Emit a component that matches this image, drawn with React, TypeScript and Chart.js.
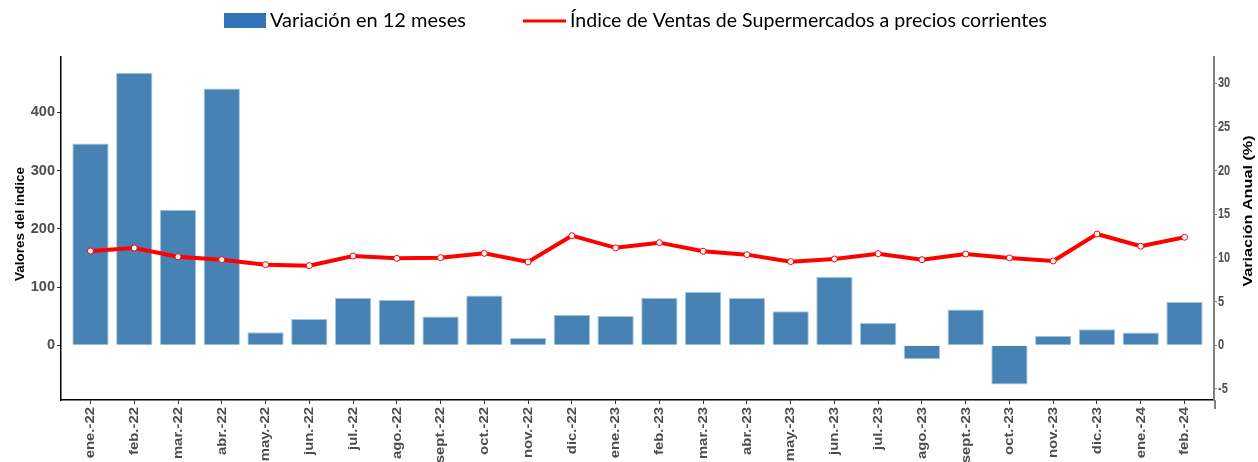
import React, { useEffect, useRef } from 'react';
import { Chart, registerables } from 'chart.js';
Chart.register(...registerables);

const labels = ['ene.-22','feb.-22','mar.-22','abr.-22','may.-22','jun.-22','jul.-22','ago.-22','sept.-22','oct.-22','nov.-22','dic.-22','ene.-23','feb.-23','mar.-23','abr.-23','may.-23','jun.-23','jul.-23','ago.-23','sept.-23','oct.-23','nov.-23','dic.-23','ene.-24','feb.-24'];
const variacion = [23.1, 31.2, 15.5, 29.4, 1.5, 3.0, 5.45, 5.2, 3.3, 5.7, 0.83, 3.5, 3.35, 5.45, 6.1, 5.4, 3.9, 7.85, 2.55, -1.6, 4.1, -4.5, 1.1, 1.83, 1.45, 4.95];
const indice = [161.9, 167, 152, 147, 138.4, 136.7, 153.3, 149.3, 150.4, 157.9, 143, 188.2, 167.3, 176.2, 161.4, 155.6, 143.6, 148.2, 157.3, 147, 156.7, 149.9, 144.7, 191, 170, 185.4];
const leftTicks = [0, 100, 200, 300, 400];
const rightTicks = [-5, 0, 5, 10, 15, 20, 25, 30];
const LEFT_MIN = -94;
const LEFT_MAX = 495;
const RATIO = 15;
const barLegend = 'Variación en 12 meses';
const lineLegend = 'Índice de Ventas de Supermercados a precios corrientes';
const leftTitle = 'Valores del índice';
const rightTitle = 'Variación Anual (%)';

const SANS = "'Liberation Sans', Arial, sans-serif";

const decor = {
  id: 'decor',
  afterDraw(chart: any) {
    const ctx = chart.ctx;
    const xs = chart.scales.x;
    const y1 = chart.scales.y1;
    const area = chart.chartArea;
    ctx.save();

    // right axis line extension below the plot
    ctx.strokeStyle = '#808080';
    ctx.lineWidth = 2;
    ctx.beginPath();
    ctx.moveTo(area.right + 1, area.bottom);
    ctx.lineTo(area.right + 1, area.bottom + 9);
    ctx.stroke();

    // x tick labels (rotated, stretched like the reference)
    ctx.fillStyle = '#4D4D4D';
    ctx.font = `bold 12px ${SANS}`;
    ctx.textAlign = 'right';
    ctx.textBaseline = 'middle';
    labels.forEach((lab, i) => {
      const x = xs.getPixelForValue(i);
      ctx.save();
      ctx.translate(x + 0.5, area.bottom + 7);
      ctx.scale(1, 1.24);
      ctx.rotate(-Math.PI / 2);
      ctx.fillText(lab, 0, 0);
      ctx.restore();
    });

    // right tick labels
    ctx.font = `bold 11px ${SANS}`;
    ctx.textAlign = 'left';
    rightTicks.forEach(v => {
      const y = y1.getPixelForValue(v);
      ctx.save();
      ctx.translate(area.right + 4, y);
      ctx.scale(1, 1.35);
      ctx.fillText(String(v), 0, 0);
      ctx.restore();
    });

    // axis titles
    ctx.fillStyle = '#000';
    ctx.font = `bold 13.5px ${SANS}`;
    ctx.textAlign = 'center';
    ctx.textBaseline = 'middle';
    ctx.save();
    ctx.translate(20, 224);
    ctx.rotate(-Math.PI / 2);
    ctx.fillText(leftTitle, 0, 0);
    ctx.restore();
    ctx.save();
    ctx.translate(1248, 211);
    ctx.scale(1, 1.2);
    ctx.rotate(-Math.PI / 2);
    ctx.fillText(rightTitle, 0, 0);
    ctx.restore();

    // legend
    const fam = "Lato, 'Open Sans', sans-serif";
    ctx.font = `19px ${fam}`;
    const w1 = ctx.measureText(barLegend).width;
    const size = 19 * 196 / w1;
    ctx.font = `${size}px ${fam}`;
    ctx.textAlign = 'left';
    ctx.fillStyle = '#3373B8';
    ctx.fillRect(224, 13, 42, 15);
    ctx.fillStyle = '#000';
    ctx.fillText(barLegend, 270, 21);
    ctx.strokeStyle = '#FF0000';
    ctx.lineWidth = 3;
    ctx.beginPath();
    ctx.moveTo(523, 21);
    ctx.lineTo(566, 21);
    ctx.stroke();
    const w2 = ctx.measureText(lineLegend).width;
    ctx.save();
    ctx.translate(570, 21);
    ctx.scale(477 / w2, 1);
    ctx.fillText(lineLegend, 0, 0);
    ctx.restore();
    ctx.restore();
  }
};

export default function App() {
  const ref = useRef<HTMLCanvasElement>(null);
  useEffect(() => {
    document.body.style.margin = '0';
    const chart = new Chart(ref.current as HTMLCanvasElement, {
      type: 'bar',
      data: {
        datasets: [
          {
            type: 'line',
            label: lineLegend,
            data: indice.map((v, i) => ({ x: i, y: v })),
            yAxisID: 'y',
            borderColor: '#FF0000',
            borderWidth: 4,
            pointRadius: 3,
            pointBackgroundColor: '#FFFFFF',
            pointBorderColor: '#FF0000',
            pointBorderWidth: 1,
            tension: 0,
            order: 0,
          } as any,
          {
            type: 'bar',
            label: barLegend,
            data: variacion.map((v, i) => ({ x: i, y: v })),
            yAxisID: 'y1',
            backgroundColor: '#4682B4',
            borderColor: '#A8C5DE',
            borderWidth: 1,
            barPercentage: 0.83,
            categoryPercentage: 1,
            order: 1,
          } as any,
        ],
      },
      options: {
        animation: false,
        responsive: false,
        maintainAspectRatio: false,
        layout: { padding: { top: 57, left: 0, right: 0, bottom: 0 } },
        plugins: { legend: { display: false }, tooltip: { enabled: false } },
        scales: {
          x: {
            type: 'linear',
            offset: false,
            min: -0.674,
            max: 25.674,
            afterBuildTicks: (s: any) => { s.ticks = labels.map((_, i) => ({ value: i })); },
            afterFit: (s: any) => { s.height = 62; },
            ticks: { display: false, autoSkip: false },
            grid: { display: true, offset: false, drawOnChartArea: false, drawTicks: true, tickLength: 4, color: '#333' },
            border: { display: true, color: '#000', width: 1.5 },
          },
          y: {
            position: 'left',
            min: LEFT_MIN,
            max: LEFT_MAX,
            afterBuildTicks: (s: any) => { s.ticks = leftTicks.map(v => ({ value: v })); },
            afterFit: (s: any) => { s.width = 61; },
            ticks: { color: '#4D4D4D', padding: 2, font: { family: SANS, size: 14.5, weight: 'bold' } },
            grid: { display: true, drawOnChartArea: false, tickLength: 4, color: '#333' },
            border: { display: true, color: '#000', width: 1.5 },
          },
          y1: {
            position: 'right',
            min: LEFT_MIN / RATIO,
            max: LEFT_MAX / RATIO,
            afterBuildTicks: (s: any) => { s.ticks = rightTicks.map(v => ({ value: v })); },
            afterFit: (s: any) => { s.width = 44; },
            ticks: { display: false },
            grid: { display: true, drawOnChartArea: false, drawTicks: true, tickLength: 3, color: '#808080' },
            border: { display: true, color: '#808080', width: 2 },
          },
        },
      } as any,
      plugins: [decor],
    });
    return () => chart.destroy();
  }, []);
  return (
    <div style={{ width: 1258, height: 462 }}>
      <canvas ref={ref} width={1258} height={462} style={{ display: 'block' }} />
    </div>
  );
}
